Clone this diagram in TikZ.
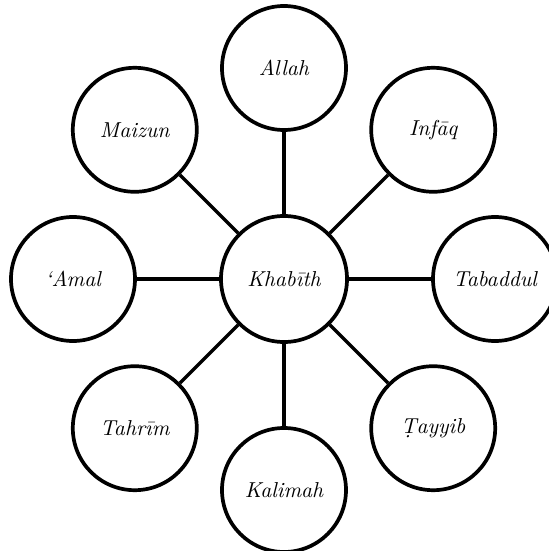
\documentclass[tikz,border=0pt]{standalone}
\usetikzlibrary{positioning}
\tikzset{
  % central term
  hub/.style = {
    draw = black,
    circle,
    line width = 1.85pt,
    minimum size = 63pt,
    inner sep = 0,
    font = \fontsize{10.8pt}{12pt}\selectfont\itshape
  },
  % surrounding term
  leaf/.style = {
    draw = black,
    circle,
    line width = 1.85pt,
    minimum size = 62pt,
    inner sep = 0,
    font = \fontsize{10.8pt}{12pt}\selectfont\itshape
  },
  % connecting line
  spoke/.style = {
    draw = black,
    line width = 1.75pt
  },
  node distance = 105.5pt,
  on grid
}
\begin{document}
\begin{tikzpicture}
    \useasboundingbox (-142pt,-136pt) rectangle (132pt,139.5pt);

    \node[hub] (khabith) {Khabīth};

    \node[leaf] (allah) [above=of khabith] {Allah};
    \node[leaf] (infaq) [above right=74.6pt and 74.6pt of khabith] {Infāq};
    \node[leaf] (tabaddul) [right=of khabith] {Tabaddul};
    \node[leaf] (tayyib) [below right=74.6pt and 74.6pt of khabith] {Ṭayyib};
    \node[leaf] (kalimah) [below=of khabith] {Kalimah};
    \node[leaf] (tahrim) [below left=74.6pt and 74.6pt of khabith] {Tahrīm};
    \node[leaf] (amal) [left=of khabith] {‘Amal};
    \node[leaf] (maizun) [above left=74.6pt and 74.6pt of khabith] {Maizun};

    % spokes
    \draw[spoke] (khabith) -- (allah);
    \draw[spoke] (khabith) -- (infaq);
    \draw[spoke] (khabith) -- (tabaddul);
    \draw[spoke] (khabith) -- (tayyib);
    \draw[spoke] (khabith) -- (kalimah);
    \draw[spoke] (khabith) -- (tahrim);
    \draw[spoke] (khabith) -- (amal);
    \draw[spoke] (khabith) -- (maizun);
\end{tikzpicture}
\end{document}
